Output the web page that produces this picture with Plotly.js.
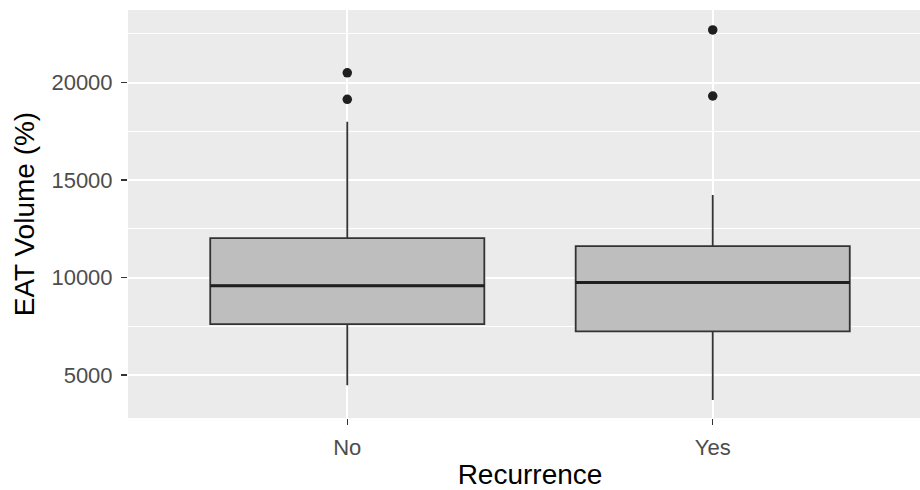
<!DOCTYPE html>
<html>
<head>
<meta charset="utf-8">
<script src="https://cdn.plot.ly/plotly-3.0.1.min.js"></script>
<style>
html, body { margin: 0; padding: 0; overflow: hidden; background: #fff; }
#chart { width: 932px; height: 490px; }
</style>
</head>
<body>
<div id="chart"></div>
<script>
// Data
var categories = ["No", "Yes"];
var lowerWhisker = [4480, 3720];
var q1 = [7610, 7240];
var median = [9580, 9750];
var q3 = [12020, 11610];
var upperWhisker = [17990, 14230];
var outlierCategory = ["No", "No", "Yes", "Yes"];
var outlierValue = [20500, 19140, 22700, 19310];
var yTickValues = [5000, 10000, 15000, 20000];

var boxWidth = 0.75;

var boxTrace = {
  type: "box",
  x: categories,
  q1: q1,
  median: median,
  q3: q3,
  lowerfence: lowerWhisker,
  upperfence: upperWhisker,
  boxpoints: false,
  width: boxWidth,
  whiskerwidth: 0,
  fillcolor: "#bebebe",
  line: { color: "#333333", width: 1.8 },
  hoverinfo: "skip",
  showlegend: false
};

var outlierTrace = {
  type: "scatter",
  mode: "markers",
  x: outlierCategory,
  y: outlierValue,
  marker: { color: "#1f1f1f", size: 9.5 },
  hoverinfo: "skip",
  showlegend: false
};

// thicker median bars (ggplot fatten), derived from median array
var shapes = categories.map(function (c, i) {
  return {
    type: "line", xref: "x", yref: "y",
    x0: i - boxWidth / 2, x1: i + boxWidth / 2,
    y0: median[i], y1: median[i],
    line: { color: "#1f1f1f", width: 3 }
  };
});

var layout = {
  width: 932,
  height: 490,
  margin: { l: 128, r: 0, t: 10, b: 72 },
  paper_bgcolor: "#ffffff",
  plot_bgcolor: "#ebebeb",
  font: { family: "Liberation Sans, Arial, sans-serif" },
  shapes: shapes,
  xaxis: {
    type: "category",
    categoryorder: "array",
    categoryarray: categories,
    range: [-0.6, 1.6],
    showgrid: true,
    gridcolor: "#ffffff",
    gridwidth: 2,
    zeroline: false,
    showline: false,
    ticks: "outside",
    ticklen: 6,
    tickwidth: 1.5,
    tickcolor: "#333333",
    tickfont: { size: 22, color: "#4d4d4d" },
    ticklabelstandoff: 4,
    automargin: false,
    title: { text: "Recurrence", font: { size: 28, color: "#000000" }, standoff: 6 }
  },
  yaxis: {
    range: [2795, 23720],
    tickvals: yTickValues,
    ticktext: yTickValues.map(String),
    showgrid: true,
    gridcolor: "#ffffff",
    gridwidth: 2,
    zeroline: false,
    showline: false,
    ticks: "outside",
    ticklen: 6,
    tickwidth: 1.5,
    tickcolor: "#333333",
    tickfont: { size: 22, color: "#4d4d4d" },
    ticklabelstandoff: 4,
    automargin: false,
    minor: { dtick: 2500, tick0: 0, showgrid: true, gridcolor: "#ffffff", gridwidth: 1, ticks: "" },
    title: { text: "EAT Volume (%)", font: { size: 28, color: "#000000" }, standoff: 8 }
  }
};

Plotly.newPlot("chart", [boxTrace, outlierTrace], layout, { staticPlot: true, displayModeBar: false });
</script>
</body>
</html>
